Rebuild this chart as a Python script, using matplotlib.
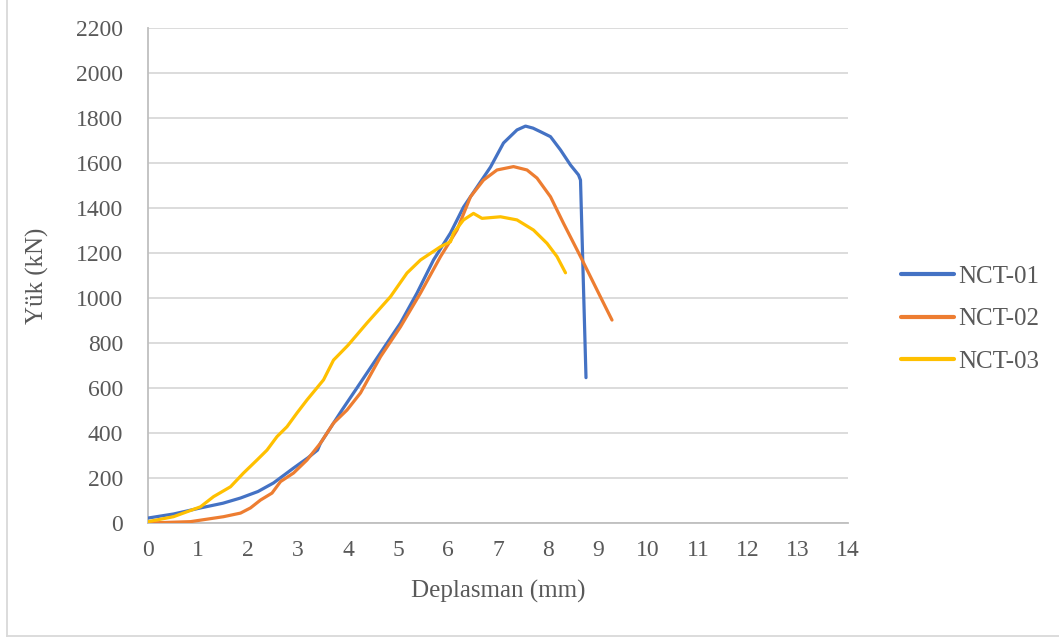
import matplotlib.pyplot as plt
from matplotlib.lines import Line2D

# Load-displacement readings (mm, kN)
nct01_disp = [0.0, 0.51, 1.05, 1.5, 1.85, 2.2, 2.51, 2.91, 3.2, 3.39, 3.45, 3.88, 4.19,
              4.6, 5.05, 5.38, 5.71, 6.05, 6.31, 6.58, 6.85, 7.11, 7.38, 7.55, 7.7,
              7.85, 8.05, 8.25, 8.45, 8.61, 8.65, 8.76]
nct01_load = [22, 40, 67, 88, 111, 140, 178, 244, 290, 324, 355, 502, 604,
              740, 889, 1022, 1169, 1289, 1404, 1493, 1582, 1689, 1747, 1764, 1755,
              1739, 1717, 1658, 1591, 1547, 1524, 646]

nct02_disp = [0.0, 0.85, 1.51, 1.85, 2.05, 2.25, 2.48, 2.65, 2.91, 3.18, 3.45, 3.71,
              3.98, 4.25, 4.65, 5.05, 5.45, 5.85, 6.18, 6.45, 6.71, 6.98, 7.31,
              7.58, 7.78, 8.05, 8.31, 8.65, 9.08, 9.28]
nct02_load = [0, 6, 28, 44, 67, 102, 133, 184, 222, 280, 355, 444,
              502, 578, 739, 872, 1022, 1184, 1302, 1450, 1524, 1569, 1584,
              1569, 1533, 1450, 1332, 1184, 991, 902]

nct03_disp = [0.0, 0.51, 1.05, 1.31, 1.65, 1.91, 2.18, 2.38, 2.58, 2.78, 2.98, 3.18,
              3.51, 3.71, 4.0, 4.38, 4.85, 5.18, 5.45, 5.85, 6.05, 6.11, 6.31, 6.51,
              6.68, 7.05, 7.38, 7.71, 7.98, 8.18, 8.35]
nct03_load = [6, 28, 72, 117, 161, 222, 280, 324, 384, 428, 489, 547,
              636, 724, 790, 889, 1006, 1111, 1169, 1228, 1250, 1289, 1347, 1376,
              1354, 1361, 1347, 1302, 1243, 1184, 1112]

series_names = ["NCT-01", "NCT-02", "NCT-03"]
series_colors = ["#4472C4", "#ED7D31", "#FFC000"]

x_ticks = list(range(0, 15))
y_ticks = list(range(0, 2201, 200))

plt.rcParams["font.family"] = ["Liberation Serif", "DejaVu Serif"]

fig = plt.figure(figsize=(10.59, 6.41), dpi=100)
ax = fig.add_axes([148 / 1059, 1 - 523 / 641, 700 / 1059, 495 / 641])

data = [(nct01_disp, nct01_load), (nct02_disp, nct02_load), (nct03_disp, nct03_load)]
for (xs, ys), name, color in zip(data, series_names, series_colors):
    ax.plot(xs, ys, color=color, lw=2.3, label=name, solid_capstyle="round",
            solid_joinstyle="round", zorder=3)

ax.set_xlim(0, 14)
ax.set_ylim(0, 2200)
ax.set_xticks(x_ticks)
ax.set_yticks(y_ticks)
ax.tick_params(axis="both", length=0, labelsize=17, labelcolor="#595959")
ax.tick_params(axis="x", pad=12)
ax.tick_params(axis="y", pad=18)
ax.grid(axis="y", color="#D9D9D9", lw=1.3, zorder=0)
for side in ["top", "right"]:
    ax.spines[side].set_visible(False)
for side in ["left", "bottom"]:
    ax.spines[side].set_color("#BFBFBF")
    ax.spines[side].set_linewidth(1.3)

ax.set_xlabel("Deplasman (mm)", fontsize=18, color="#595959", labelpad=14)
ax.set_ylabel("Yük (kN)", fontsize=18, color="#595959", labelpad=19)

leg = ax.legend(loc="center left", bbox_to_anchor=(1.044, 0.412), frameon=False,
                fontsize=18, handlelength=2.1, handletextpad=0.16,
                labelspacing=0.8, labelcolor="#595959")
for h in leg.get_lines():
    h.set_linewidth(3)

# light frame around the chart area
fig.add_artist(Line2D([6.5 / 1059, 6.5 / 1059], [1 - 636 / 641, 1.0],
                      color="#D9D9D9", lw=1.3, transform=fig.transFigure))
fig.add_artist(Line2D([6.5 / 1059, 1.0], [1 - 636 / 641, 1 - 636 / 641],
                      color="#D9D9D9", lw=1.3, transform=fig.transFigure))

fig.savefig("out.png", dpi=100)
